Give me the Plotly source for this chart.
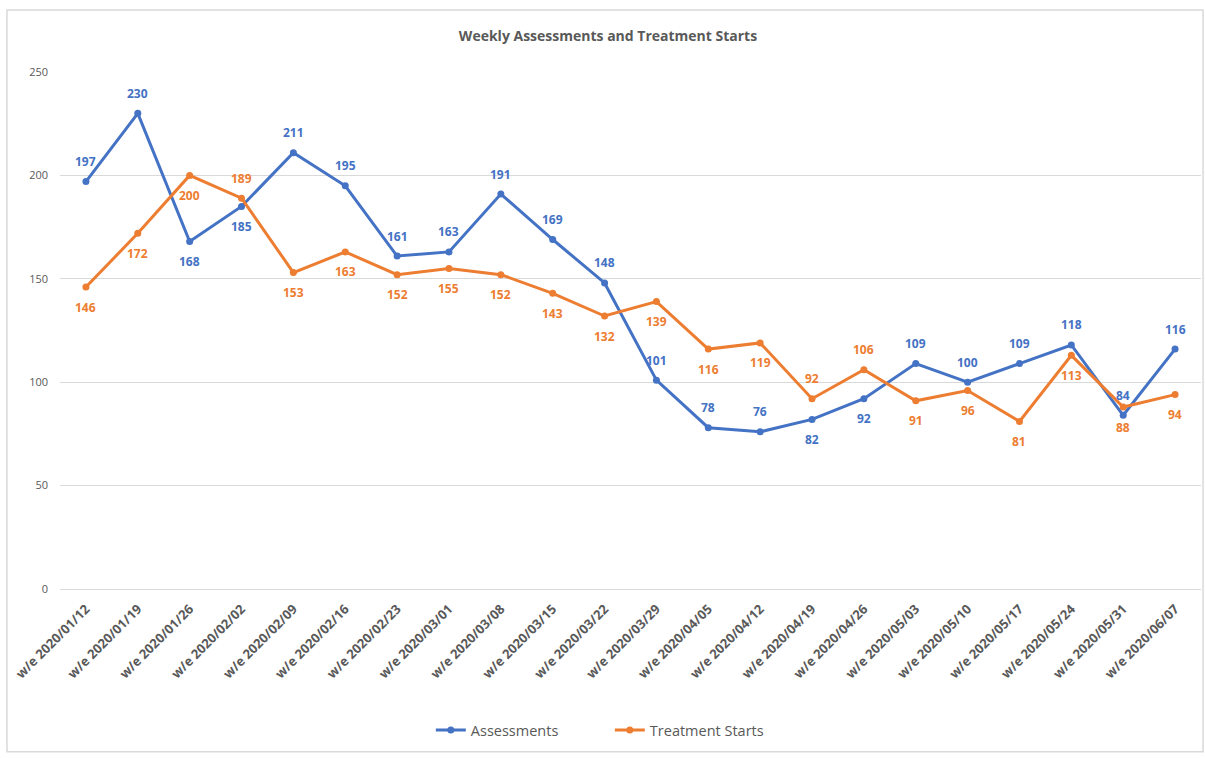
import plotly.graph_objects as go

weeks = ["w/e 2020/01/12", "w/e 2020/01/19", "w/e 2020/01/26", "w/e 2020/02/02",
         "w/e 2020/02/09", "w/e 2020/02/16", "w/e 2020/02/23", "w/e 2020/03/01",
         "w/e 2020/03/08", "w/e 2020/03/15", "w/e 2020/03/22", "w/e 2020/03/29",
         "w/e 2020/04/05", "w/e 2020/04/12", "w/e 2020/04/19", "w/e 2020/04/26",
         "w/e 2020/05/03", "w/e 2020/05/10", "w/e 2020/05/17", "w/e 2020/05/24",
         "w/e 2020/05/31", "w/e 2020/06/07"]
assessments = [197, 230, 168, 185, 211, 195, 161, 163, 191, 169, 148, 101,
               78, 76, 82, 92, 109, 100, 109, 118, 84, 116]
treatment_starts = [146, 172, 200, 189, 153, 163, 152, 155, 152, 143, 132, 139,
                    116, 119, 92, 106, 91, 96, 81, 113, 88, 94]

# label placement: +1 above the point, -1 below it
assess_side = [1, 1, -1, -1, 1, 1, 1, 1, 1, 1, 1, 1,
               1, 1, -1, -1, 1, 1, 1, 1, 1, 1]
treat_side = [-1, -1, -1, 1, -1, -1, -1, -1, -1, -1, -1, -1,
              -1, -1, 1, 1, -1, -1, -1, -1, -1, -1]

BLUE = "#4472C4"
ORANGE = "#ED7D31"
GREY = "#595959"
FONT = "Open Sans"

fig = go.Figure()
fig.add_trace(go.Scatter(x=weeks, y=assessments, name="Assessments",
                         mode="lines+markers",
                         line=dict(color=BLUE, width=3),
                         marker=dict(color=BLUE, size=7)))
fig.add_trace(go.Scatter(x=weeks, y=treatment_starts, name="Treatment Starts",
                         mode="lines+markers",
                         line=dict(color=ORANGE, width=3),
                         marker=dict(color=ORANGE, size=7)))

annotations = []
for series, sides, color in ((assessments, assess_side, BLUE),
                             (treatment_starts, treat_side, ORANGE)):
    for wk, val, side in zip(weeks, series, sides):
        annotations.append(dict(x=wk, y=val, text=str(val), showarrow=False,
                                yshift=20 * side,
                                font=dict(family=FONT, size=12, color=color,
                                          weight="bold")))

fig.update_layout(
    width=1205, height=758,
    paper_bgcolor="white", plot_bgcolor="white",
    margin=dict(l=60, r=4, t=72, b=169),
    title=dict(text="<b>Weekly Assessments and Treatment Starts</b>",
               x=608 / 1205, xanchor="center", xref="container",
               y=1 - 36 / 758, yanchor="middle",
               font=dict(family=FONT, size=14, color=GREY)),
    font=dict(family=FONT, color=GREY),
    xaxis=dict(type="category", range=[-0.5, len(weeks) - 0.5], tickangle=-45,
               showgrid=False, showline=False, ticks="", ticklabelstandoff=9,
               tickfont=dict(size=13, color=GREY, family=FONT, weight="bold")),
    yaxis=dict(range=[0, 250], dtick=50, showgrid=True, gridcolor="#D9D9D9",
               gridwidth=1, zeroline=True, zerolinecolor="#D9D9D9", zerolinewidth=1,
               ticks="", ticklabelstandoff=11,
               tickfont=dict(size=11, color=GREY, family=FONT)),
    legend=dict(orientation="h", x=0.325, xanchor="left", y=-0.273, yanchor="middle",
                font=dict(family=FONT, size=14.5, color=GREY),
                entrywidth=134, entrywidthmode="pixels"),
    annotations=annotations,
    showlegend=True,
)

# chart frame
fig.add_shape(type="rect", xref="paper", yref="paper",
              x0=-0.0465, x1=1.0018, y0=-0.315, y1=1.12,
              line=dict(color="#D9D9D9", width=1.5), layer="below")

fig.write_html("out.html")
